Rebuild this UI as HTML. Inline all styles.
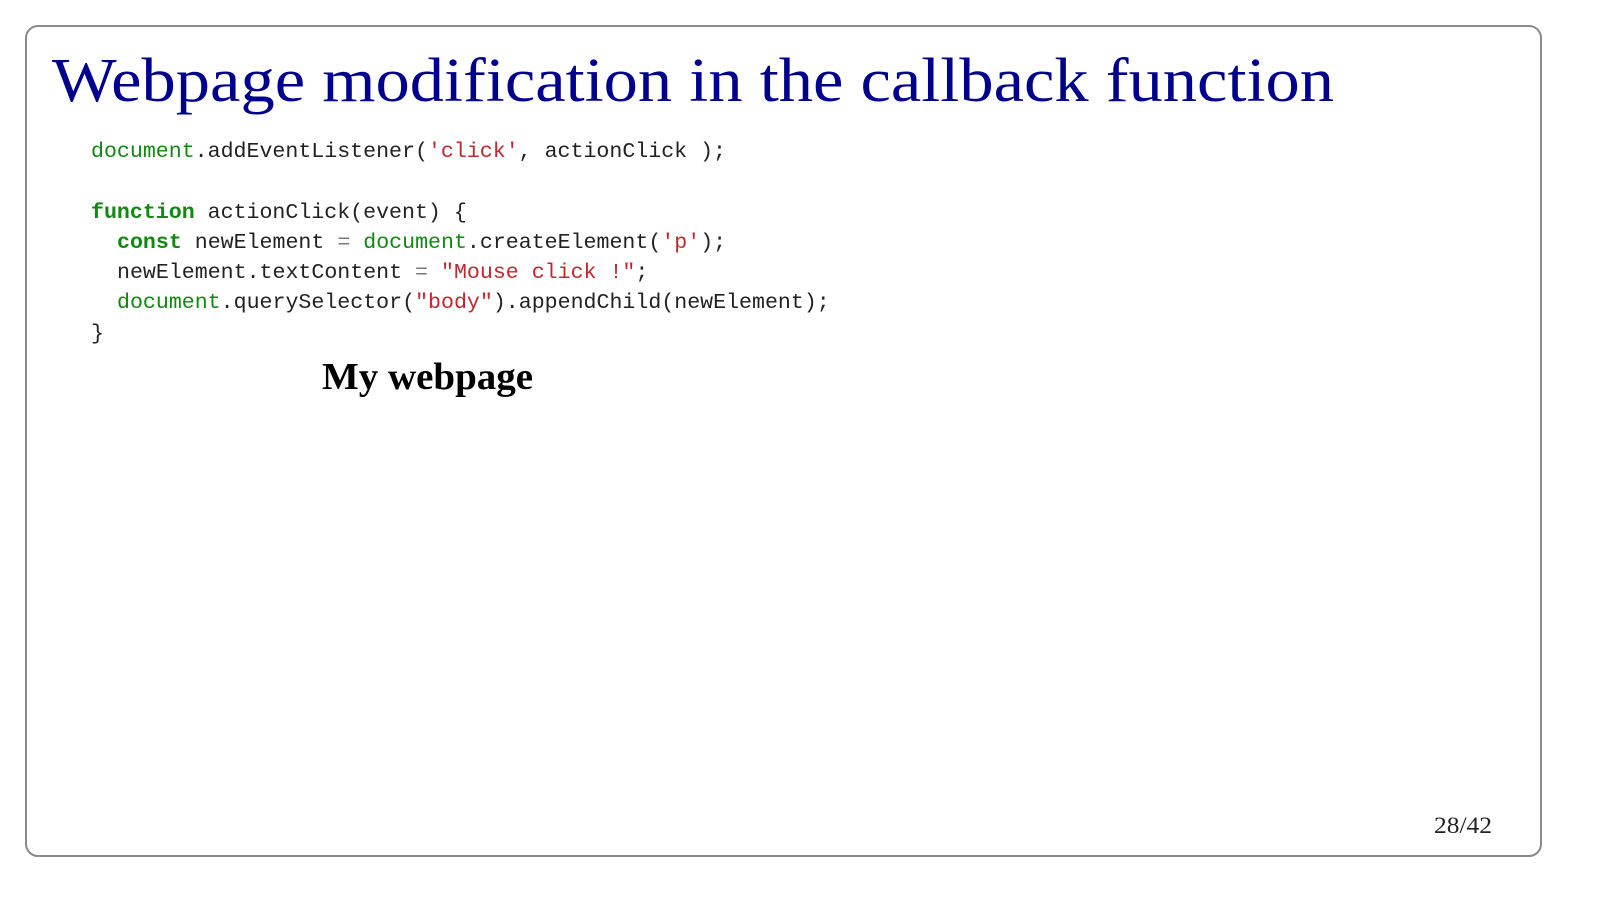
<!DOCTYPE html>
<html><head><meta charset="utf-8"><style>
html,body{margin:0;padding:0;background:#fff;width:1600px;height:902px;overflow:hidden}
svg{display:block;position:absolute;left:0;top:0}
</style></head><body>
<svg width="1600" height="902" viewBox="0 0 1600 902" xmlns="http://www.w3.org/2000/svg">
<rect x="26" y="26" width="1515" height="830" rx="12" ry="12" fill="#fff" stroke="#8a8a8a" stroke-width="2"/>
<text x="52" y="101" font-family="Liberation Serif, serif" font-size="62" fill="#00008f" textLength="1282" lengthAdjust="spacingAndGlyphs">Webpage modification in the callback function</text>
<g font-family="Liberation Mono, monospace" font-size="21.6" fill="#222" style="white-space:pre">
<text x="91" y="157"><tspan fill="#118811">document</tspan>.addEventListener(<tspan fill="#c0282d">'click'</tspan>, actionClick );</text>
<text x="91" y="218"><tspan fill="#118811" font-weight="bold">function</tspan> actionClick(event) {</text>
<text x="117" y="248"><tspan fill="#118811" font-weight="bold">const</tspan> newElement <tspan fill="#777">=</tspan> <tspan fill="#118811">document</tspan>.createElement(<tspan fill="#c0282d">'p'</tspan>);</text>
<text x="117" y="278">newElement.textContent <tspan fill="#777">=</tspan> <tspan fill="#c0282d">"Mouse click !"</tspan>;</text>
<text x="117" y="308"><tspan fill="#118811">document</tspan>.querySelector(<tspan fill="#c0282d">"body"</tspan>).appendChild(newElement);</text>
<text x="91" y="339">}</text>
</g>
<text x="322" y="389" font-family="Liberation Serif, serif" font-weight="bold" font-size="38" fill="#000" textLength="211" lengthAdjust="spacingAndGlyphs">My webpage</text>
<text x="1434" y="833" font-family="Liberation Serif, serif" font-size="23" fill="#222" textLength="58" lengthAdjust="spacingAndGlyphs">28/42</text>
</svg>
</body></html>
